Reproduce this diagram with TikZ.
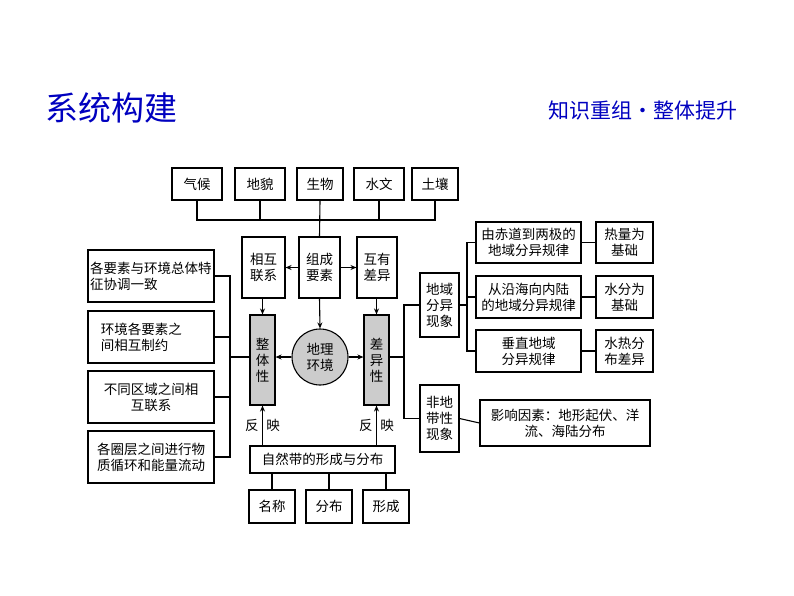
\documentclass[tikz,border=0pt]{standalone}
\usepackage{fontspec}
\setmainfont{Noto Sans CJK SC}
\usetikzlibrary{arrows.meta}
\begin{document}
\begin{tikzpicture}[x=1pt,y=-1pt,
  bx/.style={draw,line width=1.1pt,inner sep=0pt,font=\fontsize{13.5}{16}\selectfont,align=center},
  gr/.style={bx,fill=gray!40},
  ln/.style={line width=1.1pt},
  ar/.style={line width=1.1pt,-{Stealth[length=6pt,width=5pt]}}]
\useasboundingbox (0,0) rectangle (794,596);
\node[text=blue!75!black,font=\fontsize{33}{36}\selectfont,anchor=west,inner sep=0pt] (t1) at (45,108) {系统构建};
\node[text=blue!75!black,font=\fontsize{21}{24}\selectfont,anchor=east,inner sep=0pt] (t2) at (738,111) {知识重组·整体提升};
\newcommand{\BX}[6]{\node[#6,minimum width=#3-#2,minimum height=#5-#4] (#1) at ({(#2+#3)/2},{(#4+#5)/2})}
\BX{qh}{172}{222}{168}{200}{bx} {气候};
\BX{dm}{235}{285}{168}{200}{bx} {地貌};
\BX{sw}{297}{343}{168}{200}{bx} {生物};
\BX{swn}{354}{404}{168}{200}{bx} {水文};
\BX{tr}{412}{458}{168}{200}{bx} {土壤};
\BX{xh}{242}{285}{237}{298}{bx} {相互\\联系};
\BX{zc}{299}{340}{237}{298}{bx} {组成\\要素};
\BX{hy}{357}{397}{237}{298}{bx} {互有\\差异};
\BX{zt}{250}{275}{315}{405}{gr} {整\\体\\性};
\BX{cy}{364}{389}{315}{405}{gr} {差\\异\\性};
\node[draw,line width=1.1pt,circle,fill=gray!40,minimum size=56pt,inner sep=0pt,font=\fontsize{13.5}{16}\selectfont,align=center] (dl) at (320,357) {地理\\环境};
\BX{zr}{250}{395}{446}{473}{bx} {自然带的形成与分布};
\BX{mc}{249}{295}{490}{523}{bx} {名称};
\BX{fb}{306}{352}{490}{523}{bx} {分布};
\BX{xc}{363}{409}{490}{523}{bx} {形成};
\BX{l1}{88}{214}{250}{302}{bx,text width=122pt,align=left} {各要素与环境总体特\\征协调一致};
\BX{l2}{88}{214}{311}{363}{bx,text width=122pt,align=left} {\hspace*{0.8em}环境各要素之\\\hspace*{0.8em}间相互制约};
\BX{l3}{88}{214}{371}{423}{bx} {不同区域之间相\\互联系};
\BX{l4}{88}{214}{431}{483}{bx} {各圈层之间进行物\\质循环和能量流动};
\BX{dy}{420}{459}{273}{337}{bx} {地域\\分异\\现象};
\BX{fd}{420}{459}{385}{452}{bx} {非地\\带性\\现象};
\BX{r1}{476}{581}{222}{263}{bx} {由赤道到两极的\\地域分异规律};
\BX{r2}{476}{581}{276}{318}{bx} {从沿海向内陆\\的地域分异规律};
\BX{r3}{476}{581}{330}{372}{bx} {垂直地域\\分异规律};
\BX{s1}{596}{653}{222}{263}{bx} {热量为\\基础};
\BX{s2}{596}{653}{276}{318}{bx} {水分为\\基础};
\BX{s3}{596}{653}{330}{372}{bx} {水热分\\布差异};
\BX{yx}{480}{650}{400}{446}{bx} {影响因素：地形起伏、洋\\流、海陆分布};
\coordinate (b0) at (197,220); \coordinate (b1) at (435,220);
\draw[ln] (qh.south) |- (b0) -- (b1) -| (tr.south);
\draw[ln] (dm.south) -- (dm.south |- b0);
\draw[ln] (swn.south) -- (swn.south |- b0);
\draw[ln] (sw.south) -- (zc.north);
\draw[ar] (zc.west) -- (xh.east);
\draw[ar] (zc.east) -- (hy.west);
\draw[ar] (zc.south) -- (dl.north);
\draw[ar] (xh.south -| zt.north) -- (zt.north);
\draw[ar] (hy.south -| cy.north) -- (cy.north);
\draw[ar] (dl.west) -- (zt.east |- dl.west);
\draw[ar] (dl.east) -- (cy.west |- dl.east);
\draw[ar] (zr.north -| zt.south) -- (zt.south) node[pos=0.5,left=0pt,font=\fontsize{13.5}{16}\selectfont] (fy1) {反} node[pos=0.5,right=0pt,font=\fontsize{13.5}{16}\selectfont] (fy2) {映};
\draw[ar] (zr.north -| cy.south) -- (cy.south) node[pos=0.5,left=0pt,font=\fontsize{13.5}{16}\selectfont] (fy3) {反} node[pos=0.5,right=0pt,font=\fontsize{13.5}{16}\selectfont] (fy4) {映};
\draw[ln] (mc.north) -- (mc.north |- zr.south);
\draw[ln] (fb.north) -- (fb.north |- zr.south);
\draw[ln] (xc.north) -- (xc.north |- zr.south);
\coordinate (lb) at (230,357);
\draw[ln] (l1.east) -- (l1.east -| lb) -- (l4.east -| lb) -- (l4.east);
\draw[ln] (l2.east) -- (l2.east -| lb);
\draw[ln] (l3.east) -- (l3.east -| lb);
\draw[ln] (lb) -- (zt.west |- lb);
\coordinate (rb) at (404,357);
\draw[ln] (cy.east |- rb) -- (rb);
\draw[ln] (dy.west) -- (dy.west -| rb) -- (fd.west -| rb) -- (fd.west);
\coordinate (rc) at (467,305);
\draw[ln] (dy.east) -- (dy.east -| rc);
\draw[ln] (r1.west) -- (r1.west -| rc) -- (r3.west -| rc) -- (r3.west);
\draw[ln] (r2.west) -- (r2.west -| rc);
\draw[ln] (r1) -- (s1); \draw[ln] (r2) -- (s2); \draw[ln] (r3) -- (s3);
\draw[ln] (fd.east) -- (yx.west);
\end{tikzpicture}
\end{document}
